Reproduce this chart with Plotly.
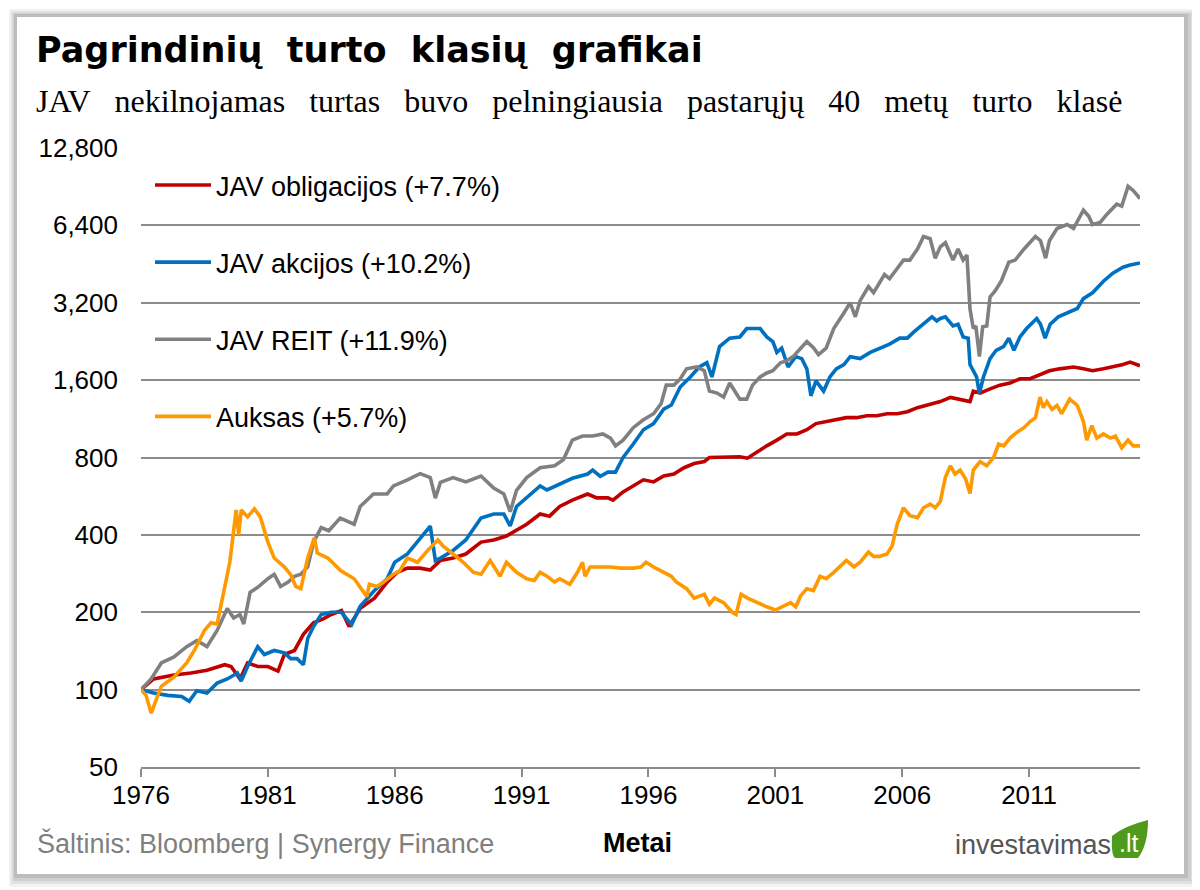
import plotly.graph_objects as go

# ---------------- data ----------------
bonds_t = [1976.0, 1976.5, 1977.3, 1977.97, 1978.6, 1979.3, 1979.55, 1979.9, 1980.2, 1980.6, 1981.0, 1981.4,
           1981.65, 1982.05, 1982.4, 1982.8, 1983.2, 1983.5, 1983.9, 1984.2, 1984.64, 1985.2, 1985.7, 1986.1,
           1986.5, 1987.0, 1987.4, 1987.8, 1988.3, 1988.8, 1989.4, 1989.9, 1990.4, 1990.8, 1991.2, 1991.73,
           1992.1, 1992.5, 1993.0, 1993.6, 1993.96, 1994.4, 1994.6, 1995.0, 1995.4, 1995.8, 1996.2, 1996.6,
           1997.0, 1997.4, 1997.8, 1998.2, 1998.4, 1998.8, 1999.2, 1999.6, 1999.9, 2000.27, 2000.66, 2001.06,
           2001.45, 2001.85, 2002.24, 2002.6, 2003.0, 2003.4, 2003.8, 2004.2, 2004.6, 2005.0, 2005.4, 2005.8,
           2006.2, 2006.6, 2006.97, 2007.5, 2007.9, 2008.28, 2008.67, 2008.8, 2009.07, 2009.46, 2009.85,
           2010.25, 2010.64, 2011.04, 2011.43, 2011.8, 2012.2, 2012.75, 2013.14, 2013.5, 2013.93, 2014.3,
           2014.7, 2014.98, 2015.37]
bonds_v = [100, 110, 114, 116, 119, 125, 123, 110, 127, 123, 123, 118,
           137, 142, 164, 182, 189, 196, 203, 176, 207, 227, 262, 286,
           297, 297, 292, 318, 325, 337, 375, 382, 396, 417, 440, 482,
           473, 516, 546, 577, 557, 557, 546, 588, 620, 655, 643, 678,
           690, 730, 758, 771, 800, 800, 800, 805, 795, 840, 888, 935,
           988, 988, 1026, 1084, 1104, 1122, 1143, 1143, 1163, 1163, 1184, 1184,
           1205, 1250, 1275, 1320, 1370, 1350, 1320, 1450, 1425, 1480, 1530,
           1560, 1620, 1620, 1680, 1740, 1770, 1800, 1770, 1740, 1770, 1800,
           1840, 1880, 1820]

stocks_t = [1976.0, 1976.5, 1977.05, 1977.6, 1977.9, 1978.2, 1978.6, 1979.0, 1979.4, 1979.8, 1979.95, 1980.2,
            1980.6, 1980.86, 1981.25, 1981.65, 1981.9, 1982.15, 1982.4, 1982.57, 1982.8, 1983.1, 1983.5, 1983.9,
            1984.1, 1984.3, 1984.64, 1985.2, 1985.7, 1986.0, 1986.5, 1987.0, 1987.4, 1987.6, 1987.8, 1988.3,
            1988.8, 1989.4, 1989.9, 1990.3, 1990.55, 1990.8, 1991.2, 1991.73, 1992.0, 1992.5, 1993.0, 1993.6,
            1993.8, 1994.1, 1994.4, 1994.7, 1995.0, 1995.4, 1995.8, 1996.2, 1996.6, 1996.9, 1997.25, 1997.65,
            1998.0, 1998.3, 1998.5, 1998.8, 1999.2, 1999.6, 1999.87, 2000.1, 2000.4, 2000.66, 2000.9, 2001.06,
            2001.25, 2001.5, 2001.8, 2002.04, 2002.24, 2002.4, 2002.6, 2002.9, 2003.15, 2003.4, 2003.7, 2003.95,
            2004.34, 2004.74, 2005.1, 2005.5, 2005.9, 2006.2, 2006.45, 2006.84, 2007.17, 2007.36, 2007.5, 2007.7,
            2008.0, 2008.2, 2008.4, 2008.6, 2008.67, 2008.93, 2009.04, 2009.2, 2009.46, 2009.7, 2009.99, 2010.2,
            2010.4, 2010.64, 2010.9, 2011.3, 2011.45, 2011.63, 2011.83, 2012.15, 2012.5, 2012.9, 2013.14, 2013.5,
            2013.93, 2014.3, 2014.7, 2014.98, 2015.37]
stocks_v = [100, 97, 95, 94, 90, 99, 97, 106, 110, 116, 108, 123,
            147, 137, 142, 139, 132, 132, 125, 158, 176, 196, 200, 200,
            189, 179, 211, 243, 270, 313, 337, 389, 433, 318, 325, 348,
            382, 465, 482, 482, 433, 516, 557, 620, 598, 632, 664, 690,
            715, 676, 702, 702, 800, 903, 1026, 1084, 1233, 1280, 1505, 1646,
            1800, 1870, 1646, 2160, 2330, 2355, 2540, 2540, 2540, 2355, 2260, 2050,
            2130, 1800, 1975, 1940, 1770, 1390, 1590, 1450, 1646, 1770, 1840, 1975,
            1940, 2050, 2130, 2210, 2330, 2330, 2460, 2640, 2820, 2720, 2780, 2820,
            2600, 2640, 2355, 2330, 1840, 1646, 1420, 1646, 1940, 2090, 2160, 2330,
            2090, 2355, 2540, 2780, 2640, 2330, 2640, 2820, 2920, 3040, 3320, 3500,
            3880, 4170, 4400, 4490, 4570]

reit_t = [1976.0, 1976.4, 1976.8, 1977.3, 1977.8, 1978.2, 1978.6, 1979.0, 1979.4, 1979.65, 1979.9, 1980.05,
          1980.3, 1980.6, 1981.0, 1981.25, 1981.5, 1981.8, 1982.05, 1982.3, 1982.57, 1982.8, 1983.1, 1983.4,
          1983.85, 1984.4, 1984.64, 1985.16, 1985.7, 1985.95, 1986.5, 1987.0, 1987.4, 1987.6, 1987.8, 1988.3,
          1988.8, 1989.4, 1989.9, 1990.3, 1990.55, 1990.8, 1991.2, 1991.73, 1992.3, 1992.65, 1993.0, 1993.4,
          1993.8, 1994.2, 1994.5, 1994.7, 1995.0, 1995.4, 1995.8, 1996.2, 1996.5, 1996.7, 1997.0, 1997.25,
          1997.5, 1997.9, 1998.2, 1998.4, 1998.7, 1998.96, 1999.2, 1999.6, 1999.87, 2000.1, 2000.4, 2000.66,
          2000.9, 2001.2, 2001.45, 2001.7, 2002.0, 2002.24, 2002.5, 2002.7, 2003.0, 2003.3, 2003.7, 2003.95,
          2004.15, 2004.34, 2004.67, 2004.87, 2005.3, 2005.5, 2005.8, 2006.05, 2006.3, 2006.6, 2006.84, 2007.1,
          2007.3, 2007.5, 2007.7, 2008.0, 2008.2, 2008.4, 2008.55, 2008.67, 2008.8, 2008.9, 2009.04, 2009.17,
          2009.33, 2009.46, 2009.66, 2009.9, 2010.2, 2010.45, 2010.8, 2011.25, 2011.45, 2011.65, 2011.8, 2012.1,
          2012.5, 2012.75, 2013.14, 2013.35, 2013.5, 2013.8, 2014.06, 2014.45, 2014.65, 2014.9, 2015.1, 2015.37]
reit_v = [100, 110, 127, 134, 147, 155, 147, 170, 207, 190, 196, 180,
          239, 250, 270, 281, 252, 262, 276, 281, 300, 375, 427, 415,
          465, 440, 516, 577, 577, 620, 655, 692, 668, 556, 640, 668,
          643, 678, 608, 577, 492, 596, 668, 730, 743, 785, 935, 970,
          970, 988, 952, 888, 935, 1045, 1122, 1184, 1297, 1530, 1530, 1617,
          1770, 1800, 1740, 1450, 1425, 1375, 1560, 1350, 1350, 1530, 1646, 1706,
          1740, 1870, 1905, 1975, 2130, 2260, 2140, 2010, 2130, 2540, 2920, 3200,
          2820, 3260, 3700, 3500, 4120, 3970, 4350, 4690, 4690, 5180, 5790, 5680,
          4770, 5280, 5480, 4690, 5180, 4690, 4900, 3030, 2540, 2600, 1975, 2580,
          2600, 3370, 3560, 3880, 4600, 4690, 5180, 5790, 5580, 4770, 5580, 6220,
          6450, 6220, 7330, 6940, 6450, 6570, 7060, 7740, 7600, 9080, 8750, 8130]

gold_t = [1976.0, 1976.2, 1976.4, 1976.8, 1977.3, 1977.8, 1978.1, 1978.5, 1978.76, 1979.0, 1979.5, 1979.75,
          1979.85, 1979.95, 1980.2, 1980.47, 1980.7, 1981.0, 1981.25, 1981.65, 1981.9, 1982.1, 1982.3, 1982.57,
          1982.83, 1982.95, 1983.36, 1983.88, 1984.4, 1984.9, 1985.0, 1985.3, 1985.56, 1985.95, 1986.2, 1986.5,
          1986.9, 1987.3, 1987.7, 1987.9, 1988.3, 1988.7, 1989.1, 1989.4, 1989.76, 1990.15, 1990.4, 1990.8,
          1991.2, 1991.5, 1991.73, 1992.0, 1992.3, 1992.5, 1992.9, 1993.2, 1993.4, 1993.5, 1993.7, 1994.1,
          1994.5, 1994.9, 1995.4, 1995.7, 1995.9, 1996.2, 1996.5, 1996.9, 1997.1, 1997.5, 1997.8, 1998.2,
          1998.4, 1998.6, 1998.96, 1999.3, 1999.45, 1999.65, 1999.9, 2000.27, 2000.66, 2001.0, 2001.3, 2001.6,
          2001.8, 2002.0, 2002.24, 2002.5, 2002.76, 2003.0, 2003.3, 2003.55, 2003.8, 2004.1, 2004.34, 2004.67,
          2004.87, 2005.1, 2005.4, 2005.6, 2005.8, 2006.05, 2006.3, 2006.6, 2006.84, 2007.1, 2007.3, 2007.5,
          2007.7, 2007.9, 2008.08, 2008.28, 2008.5, 2008.67, 2008.8, 2009.07, 2009.33, 2009.6, 2009.8, 2010.0,
          2010.25, 2010.5, 2010.8, 2011.04, 2011.25, 2011.43, 2011.56, 2011.7, 2011.9, 2012.1, 2012.28, 2012.6,
          2012.9, 2013.14, 2013.27, 2013.47, 2013.67, 2013.93, 2014.2, 2014.4, 2014.65, 2014.9, 2015.1, 2015.37]
gold_v = [100, 95, 81, 103, 112, 127, 142, 170, 182, 180, 313, 500,
          400, 500, 470, 505, 470, 375, 325, 300, 280, 252, 247, 325,
          390, 340, 325, 290, 270, 230, 257, 252, 262, 281, 290, 325,
          313, 348, 382, 362, 337, 313, 286, 281, 318, 276, 313, 286,
          270, 266, 286, 276, 262, 270, 257, 286, 313, 276, 300, 300,
          300, 297, 297, 300, 313, 300, 290, 276, 262, 247, 227, 235,
          215, 227, 218, 200, 196, 235, 227, 218, 210, 204, 210, 218,
          210, 232, 247, 243, 276, 270, 286, 300, 318, 300, 313, 343,
          330, 330, 337, 362, 440, 510, 475, 467, 510, 527, 510, 540,
          670, 743, 690, 715, 660, 580, 715, 771, 743, 800, 903, 888,
          952, 1000, 1045, 1104, 1143, 1375, 1250, 1320, 1230, 1275, 1184, 1350,
          1275, 1104, 935, 1064, 952, 988, 952, 970, 873, 935, 888, 888]

series_names = ["JAV obligacijos (+7.7%)", "JAV akcijos (+10.2%)", "JAV REIT (+11.9%)", "Auksas (+5.7%)"]
series_colors = ["#C00000", "#0070C0", "#808080", "#FF9900"]

x_ticks = [1976, 1981, 1986, 1991, 1996, 2001, 2006, 2011]
y_ticks = [50, 100, 200, 400, 800, 1600, 3200, 6400, 12800]
y_ticktext = ["50", "100", "200", "400", "800", "1,600", "3,200", "6,400", "12,800"]

title = "Pagrindinių turto klasių grafikai"
subtitle = "JAV nekilnojamas turtas buvo pelningiausia pastarųjų 40 metų turto klasė"
source = "Šaltinis: Bloomberg | Synergy Finance"
x_title = "Metai"

# ---------------- layout helpers (page coordinates; page body has an 8px margin) ----------------
OFF = 8
W, H = 1192, 882
PL, PR, PT, PB = 141, 1140, 148, 767          # plot area edges in page pixels
ML, MR, MT, MB = PL - OFF, W - (PR - OFF), PT - OFF, H - (PB - OFF)
PW, PH = W - ML - MR, H - MT - MB


def px(x):
    return (x - OFF - ML) / PW


def py(y):
    return (H - MB - (y - OFF)) / PH


fig = go.Figure()
all_t = [bonds_t, stocks_t, reit_t, gold_t]
all_v = [bonds_v, stocks_v, reit_v, gold_v]
for i, (t, v) in enumerate(zip(all_t, all_v)):
    fig.add_trace(go.Scatter(
        x=t, y=v, mode="lines", name=series_names[i], legendgroup=str(i),
        line=dict(color=series_colors[i], width=3.6),
    ))

FONT = "Liberation Sans, Arial, sans-serif"

# card with soft shadow
shapes = []
for (x0, y0, x1, y1, col) in [(9, 9, 1197, 887, "#f2f2f2"), (11, 11, 1194, 884, "#e0e0e0"),
                               (13, 13, 1191, 881, "#cfcfcf"), (14, 14, 1188, 878, "#bdbdbd")]:
    shapes.append(dict(type="rect", xref="paper", yref="paper", x0=px(x0), x1=px(x1), y0=py(y1), y1=py(y0),
                       fillcolor=col, line=dict(width=0), layer="below"))
shapes.append(dict(type="rect", xref="paper", yref="paper", x0=px(17), x1=px(1184), y0=py(874), y1=py(17),
                   fillcolor="white", line=dict(width=0), layer="below"))

# logo leaf
leaf = [(1116, 858), (1138, 858), (1148, 845), (1148, 820), (1124, 826), (1113, 842)]
path = "M {},{} L {},{} Q {},{} {},{} Q {},{} {},{} Q {},{} {},{} Z".format(
    px(leaf[0][0]), py(leaf[0][1]), px(leaf[1][0]), py(leaf[1][1]),
    px(leaf[2][0]), py(leaf[2][1]), px(leaf[3][0]), py(leaf[3][1]),
    px(leaf[4][0]), py(leaf[4][1]), px(1112), py(836),
    px(1111), py(858), px(leaf[0][0]), py(leaf[0][1]))
shapes.append(dict(type="path", xref="paper", yref="paper", path=path,
                   fillcolor="#4f9a1c", line=dict(width=0)))

NB = "\u00a0"
title_txt = title.replace(" ", NB + " ")
subtitle_txt = subtitle.replace(" ", NB * 2 + " ")

annotations = [
    dict(text="<b>" + title_txt + "</b>", x=px(34), y=py(50), xanchor="left", yanchor="middle",
         font=dict(family="DejaVu Sans, sans-serif", size=35, color="black")),
    dict(text=subtitle_txt, x=px(34), y=py(101), xanchor="left", yanchor="middle",
         font=dict(family="Liberation Serif, Times New Roman, serif", size=32, color="black")),
    dict(text=source, x=px(35), y=py(843), xanchor="left", yanchor="middle",
         font=dict(family=FONT, size=27, color="#7f7f7f")),
    dict(text="<b>" + x_title + "</b>", x=px(637), y=py(843), xanchor="center", yanchor="middle",
         font=dict(family=FONT, size=27, color="black")),
    dict(text="investavimas", x=px(1113), y=py(845), xanchor="right", yanchor="middle",
         font=dict(family=FONT, size=27, color="#555555")),
    dict(text=".lt", x=px(1129), y=py(843), xanchor="center", yanchor="middle",
         font=dict(family=FONT, size=25, color="white")),
]
for a in annotations:
    a.update(xref="paper", yref="paper", showarrow=False)

fig.update_layout(
    width=W, height=H,
    margin=dict(l=ML, r=MR, t=MT, b=MB, pad=0),
    paper_bgcolor="white", plot_bgcolor="rgba(0,0,0,0)",
    font=dict(family=FONT, size=27, color="black"),
    showlegend=True,
    legend=dict(x=px(150), y=py(161), xanchor="left", yanchor="top", bgcolor="rgba(0,0,0,0)",
                font=dict(family=FONT, size=27, color="black"), tracegroupgap=39,
                itemwidth=56),
    shapes=shapes, annotations=annotations,
    xaxis=dict(range=[1976, 2015.37], tickmode="array", tickvals=x_ticks,
               ticktext=[str(v) for v in x_ticks], showgrid=False, zeroline=False,
               showline=True, linecolor="#8c8c8c", linewidth=1.5,
               ticks="outside", ticklen=8, tickcolor="#8c8c8c", tickwidth=1.5,
               ticklabelstandoff=-4,
               tickfont=dict(family=FONT, size=26, color="black")),
    yaxis=dict(type="log", range=[1.69897, 4.10721], tickmode="array", tickvals=y_ticks,
               ticktext=y_ticktext, showgrid=True, gridcolor="#8c8c8c", gridwidth=1.5,
               zeroline=False, showline=False, ticks="", ticklabelstandoff=22,
               tickfont=dict(family=FONT, size=26, color="black")),
)

fig.write_html("out.html")
